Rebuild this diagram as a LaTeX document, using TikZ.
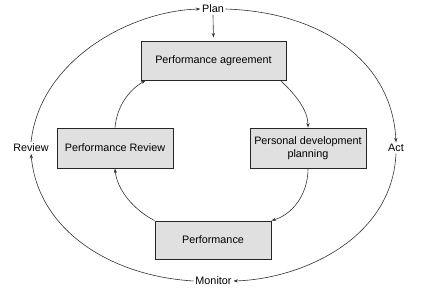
\documentclass[tikz,border=0pt]{standalone}
\usepackage{fontspec}
\setmainfont{Liberation Sans}
\usetikzlibrary{arrows.meta}

\tikzset{every picture/.style={line width=0.75pt}}
\tikzset{
  stagebox/.style={draw=black!85,fill=black!12,line width=0.9pt,inner sep=0.75pt,align=center,font=\fontsize{10.8}{12.8}\selectfont},
  steplabel/.style={inner sep=1.5pt,font=\fontsize{10.8}{12.8}\selectfont},
  flow/.style={draw=black!80,line width=0.6pt,-{Stealth[length=4.5pt,width=3.2pt]}}
}

\begin{document}
\begin{tikzpicture}[
                x=1pt,
                y=1pt,
                yscale=-1,
                xscale=1,
                every node/.style={text=black}
            ]
                \useasboundingbox (0,0) rectangle (440,290);

                \node [stagebox,minimum width=145,minimum height=39] (agree) at (213.5,60.5) {Performance agreement};
                \node [stagebox,minimum width=116,minimum height=40] (review) at (115,148) {Performance Review};
                \node [stagebox,minimum width=116,minimum height=40] (pdp) at (308,148) {Personal development\\planning};
                \node [stagebox,minimum width=116,minimum height=38] (perf) at (213,240) {Performance};

                \node [steplabel] (plan) at (213,9) {Plan};
                \node [steplabel] (rev) at (31,148) {Review};
                \node [steplabel] (act) at (396,148) {Act};
                \node [steplabel] (mon) at (213.5,281) {Monitor};

                % outer loop
                \draw [flow,shorten >=3pt] (plan.south) -- (agree.north);
                \draw [flow] (plan.east) .. controls (320,12) and (392,60) .. (act.north);
                \draw [flow] (act.south) .. controls (392,240) and (300,279) .. (mon.east);
                \draw [flow] (mon.west) .. controls (110,276) and (38,230) .. (rev.south);
                \draw [flow] (rev.north) .. controls (40,60) and (130,11) .. (plan.west);

                % inner loop
                \draw [flow] ([xshift=-6]agree.south east) .. controls (295,94) and (308,110) .. (pdp.north);
                \draw [flow] (pdp.south) .. controls (308,196) and (291,215) .. (perf.north east);
                \draw [flow] (perf.north west) .. controls (134,210) and (117,190) .. (review.south);
                \draw [flow] (review.north) .. controls (117,106) and (129,90) .. ([xshift=5]agree.south west);
            \end{tikzpicture}
\end{document}
